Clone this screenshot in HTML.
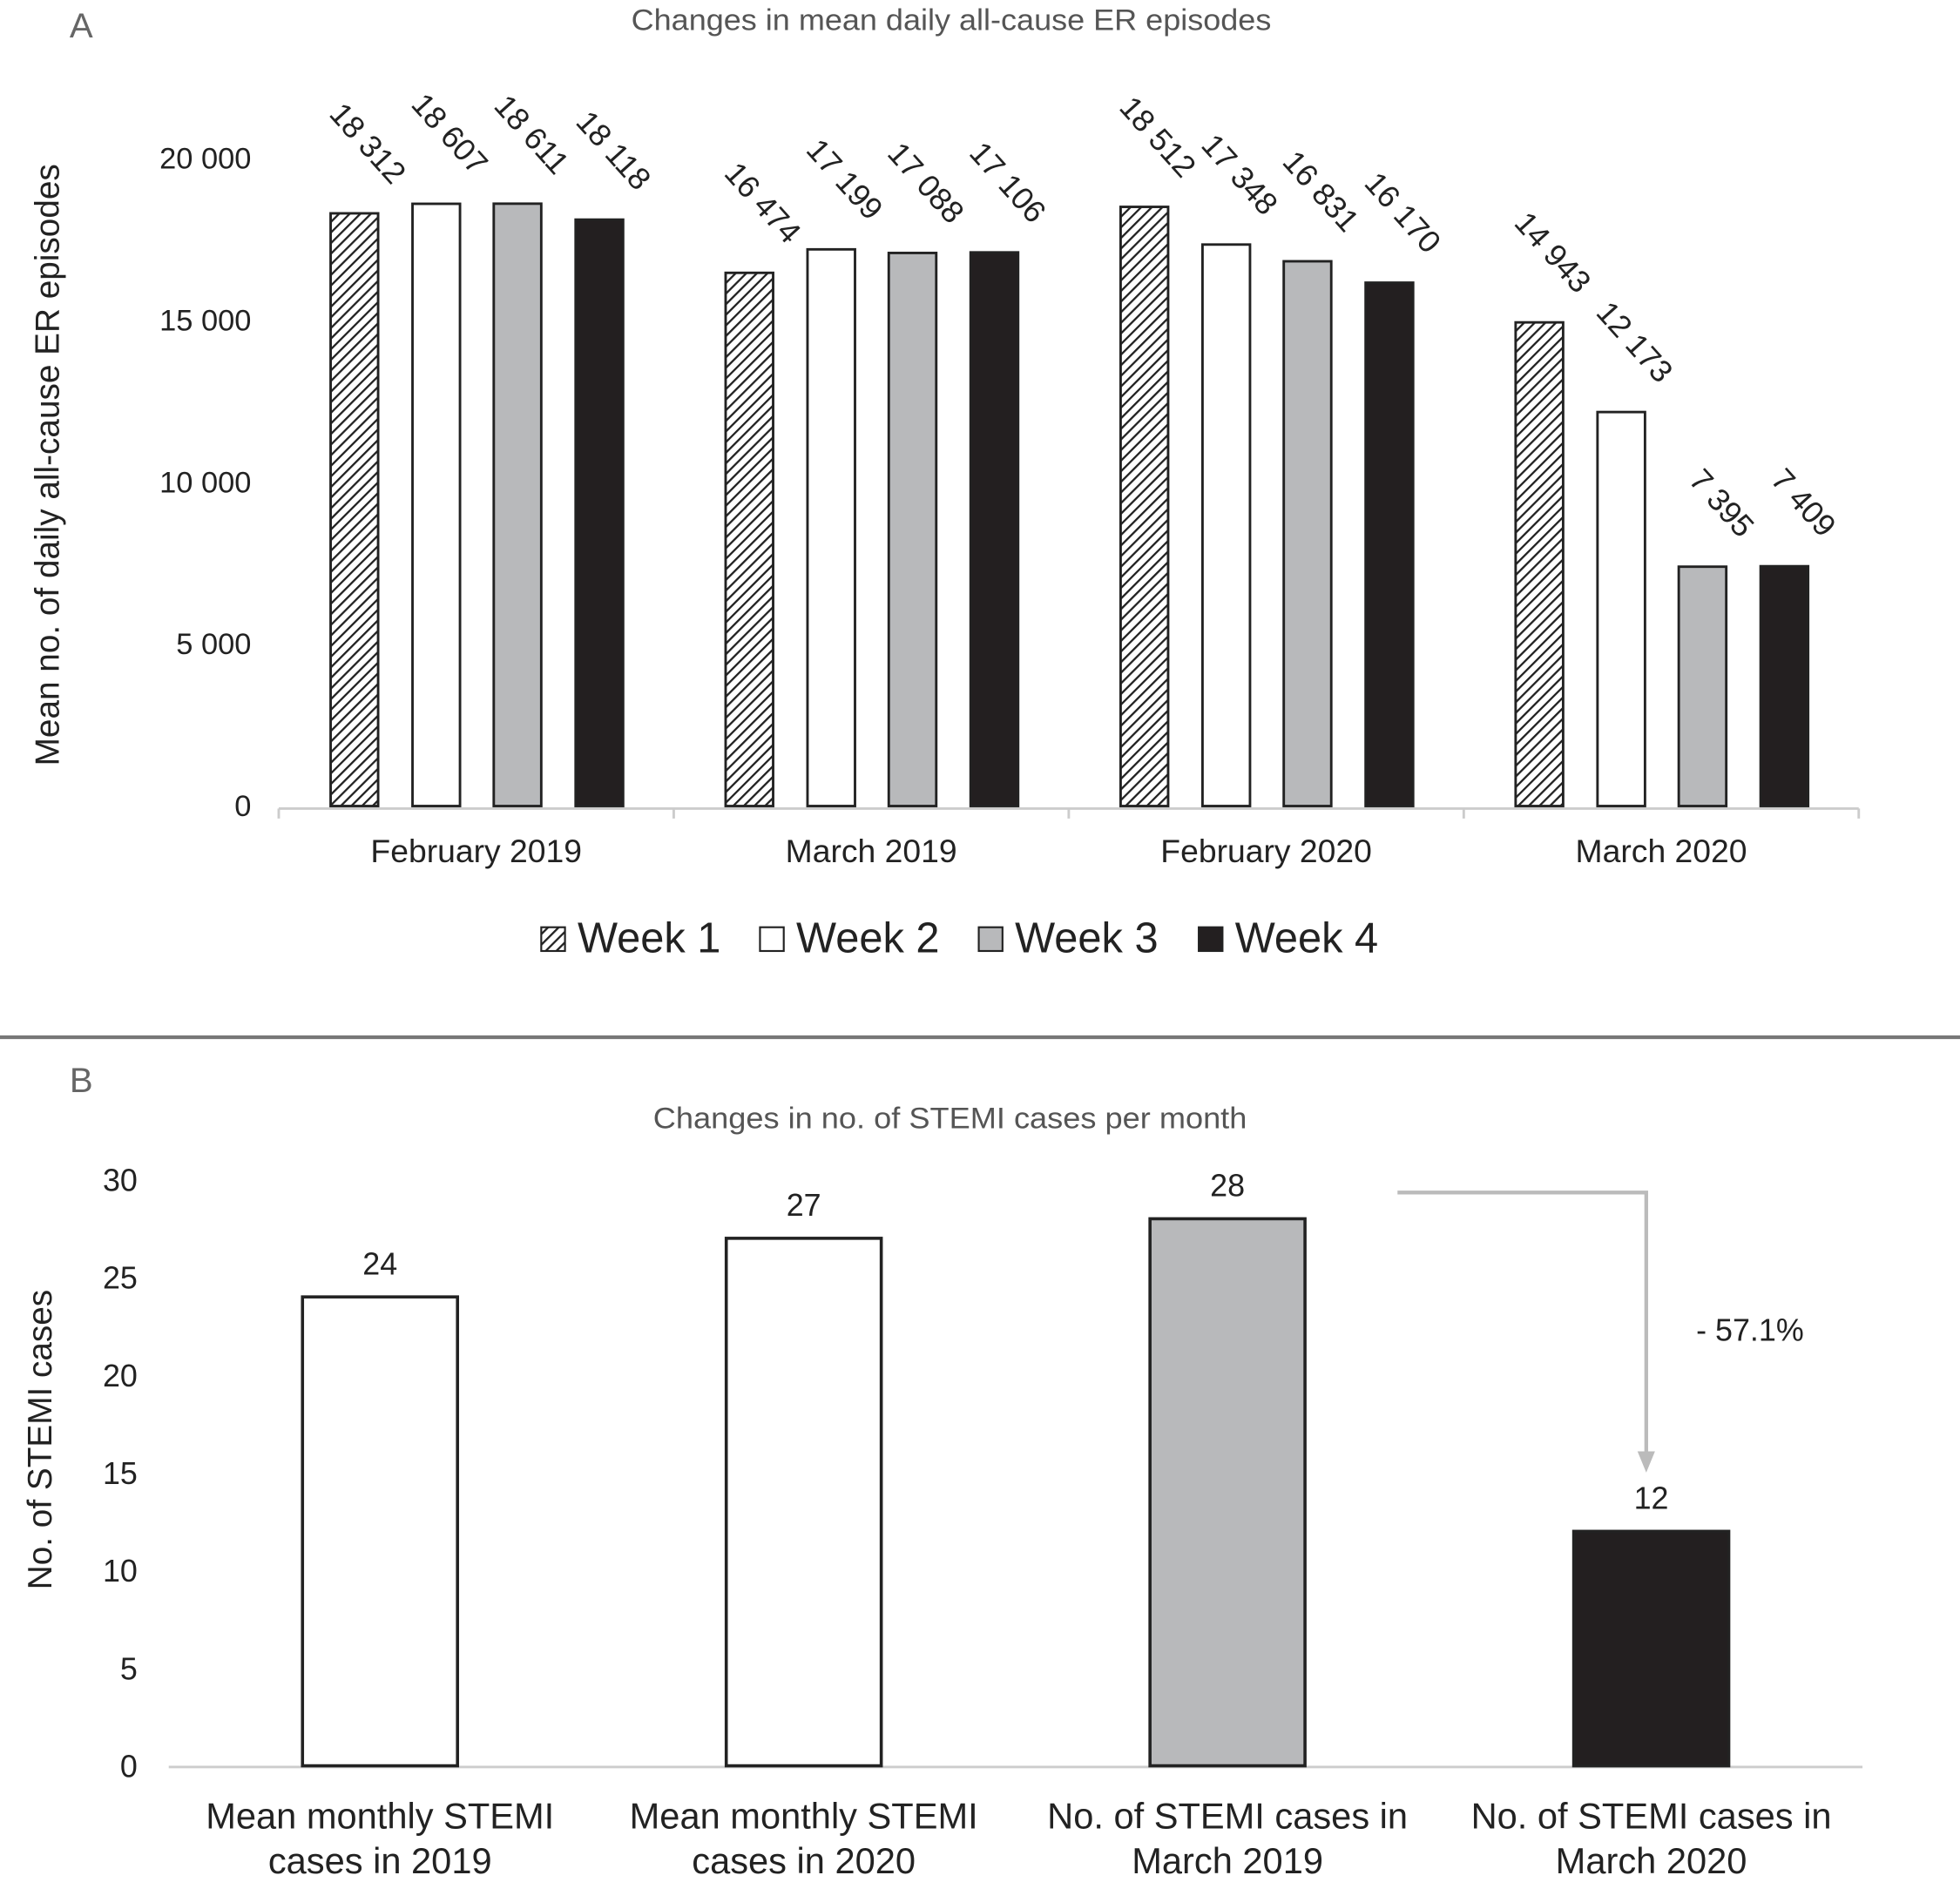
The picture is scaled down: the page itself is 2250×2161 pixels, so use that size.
<!DOCTYPE html>
<html><head><meta charset="utf-8"><style>
html,body{margin:0;padding:0;background:#fff;}
svg{display:block;}
text{font-family:"Liberation Sans",sans-serif;}
</style></head><body>
<svg id="chart" width="2250" height="2161" viewBox="0 0 1568 1506" preserveAspectRatio="none" xmlns="http://www.w3.org/2000/svg">
<defs>
<pattern id="hatch" width="6" height="6" patternUnits="userSpaceOnUse" patternTransform="rotate(45)">
<rect width="6" height="6" fill="#fff"/><rect x="0" y="0" width="1.6" height="6" fill="#222"/>
</pattern>
</defs>
<g id="panelA"></g>
<g id="panelB"></g>
</svg>
<script>
const groupsA = ["February 2019","March  2019","February  2020","March  2020"];
const week1 = [18312,16474,18512,14943];
const week2 = [18607,17199,17348,12173];
const week3 = [18611,17088,16831,7395];
const week4 = [18118,17106,16170,7409];
const labelsA1 = ["18 312","16 474","18 512","14 943"];
const labelsA2 = ["18 607","17 199","17 348","12 173"];
const labelsA3 = ["18 611","17 088","16 831","7 395"];
const labelsA4 = ["18 118","17 106","16 170","7 409"];
const ticksA = [0,5000,10000,15000,20000];
const tickLabelsA = ["0","5 000","10 000","15 000","20 000"];

const catsB1 = ["Mean monthly STEMI","Mean monthly STEMI","No. of  STEMI cases in","No. of  STEMI cases in"];
const catsB2 = ["cases in 2019","cases in 2020","March 2019","March 2020"];
const valuesB = [24,27,28,12];
const ticksB = [0,5,10,15,20,25,30];

const NS="http://www.w3.org/2000/svg";
function mk(parent,tag,attrs,txt){const e=document.createElementNS(NS,tag);for(const k in attrs)e.setAttribute(k,attrs[k]);if(txt!==undefined)e.textContent=txt;parent.appendChild(e);return e;}

// Panel A
const A=document.getElementById('panelA');
const yA=v=>645-v*(518/20000);
const xA0=223,gwA=316;
const gcA=i=>xA0+gwA*(i+0.5);
const offA=[-97.5,-32,33,98.5];
let t;
t=mk(A,'text',{x:65,y:30,'font-size':28,fill:'#666','text-anchor':'middle'},'A');


t=mk(A,'text',{x:761,y:24,'font-size':24,fill:'#555','text-anchor':'middle',textLength:512,lengthAdjust:'spacingAndGlyphs'},'Changes in mean daily all-cause ER episodes');


t=mk(A,'text',{x:0,y:0,'font-size':27,fill:'#222','text-anchor':'middle',transform:'translate(47,372) rotate(-90)'},'Mean no. of daily all-cause ER episodes');


ticksA.forEach((v,i)=>{
  const e=mk(A,'text',{x:201,y:yA(v)+8,'font-size':24,fill:'#222','text-anchor':'end'},tickLabelsA[i]);
  
  
});
const ax=mk(A,'line',{x1:223,y1:647,x2:1487,y2:647,stroke:'#ccc','stroke-width':2});


for(let i=0;i<=4;i++){
  const tk=mk(A,'line',{x1:xA0+gwA*i,y1:647,x2:xA0+gwA*i,y2:655,stroke:'#ccc','stroke-width':2});
  
  
}
const series=[week1,week2,week3,week4];
const slabels=[labelsA1,labelsA2,labelsA3,labelsA4];
const fills=['url(#hatch)','#fff','#b8b9bb','#231f20'];
groupsA.forEach((g,i)=>{
  const c=mk(A,'text',{x:gcA(i),y:690,'font-size':26,fill:'#222','text-anchor':'middle'},g);
  
  
  series.forEach((s,k)=>{
    const cx=gcA(i)+offA[k];
    const top=yA(s[i]);
    const r=mk(A,'rect',{x:cx-19,y:top,width:38,height:645-top,fill:fills[k],stroke:'#222','stroke-width':2});
    
    
    const lx=cx+30,ly=top-22;
    const l=mk(A,'text',{x:lx,y:ly,'font-size':25,fill:'#222','text-anchor':'end',transform:`rotate(48 ${lx} ${ly})`},slabels[k][i]);
    
    
  });
});
// legend
const legItems=[[433,'Week 1'],[608,'Week 2'],[783,'Week 3'],[959,'Week 4']];
legItems.forEach((it,k)=>{
  const g=mk(A,'g',{});
  
  
  mk(g,'rect',{x:it[0],y:742,width:19,height:19,fill:fills[k],stroke:'#222','stroke-width':1.5});
  mk(g,'text',{x:it[0]+29,y:762,'font-size':34,fill:'#222'},it[1]);
});
const sep=mk(A,'line',{x1:0,y1:830,x2:1568,y2:830,stroke:'#777','stroke-width':3});



// Panel B
const B=document.getElementById('panelB');
const yB=v=>1413-v*(469/30);
const xB=i=>304+339*i;
t=mk(B,'text',{x:65,y:874,'font-size':28,fill:'#666','text-anchor':'middle'},'B');


t=mk(B,'text',{x:760,y:903,'font-size':24,fill:'#555','text-anchor':'middle',textLength:475,lengthAdjust:'spacingAndGlyphs'},'Changes in no. of STEMI cases per month');


t=mk(B,'text',{x:0,y:0,'font-size':27,fill:'#222','text-anchor':'middle',transform:'translate(41,1152) rotate(-90)'},'No. of STEMI cases');


ticksB.forEach(v=>{
  const e=mk(B,'text',{x:110,y:yB(v)+9,'font-size':25,fill:'#222','text-anchor':'end'},String(v));
  
  
});
const axb=mk(B,'line',{x1:135,y1:1414,x2:1490,y2:1414,stroke:'#ccc','stroke-width':2});


const fillsB=['#fff','#fff','#b8b9bb','#231f20'];
valuesB.forEach((v,i)=>{
  const top=yB(v);
  const r=mk(B,'rect',{x:xB(i)-62,y:top,width:124,height:1413-top,fill:fillsB[i],stroke:'#222','stroke-width':2.5});
  
  
  const l=mk(B,'text',{x:xB(i),y:top-18,'font-size':25,fill:'#222','text-anchor':'middle'},String(v));
  
  
  const c1=mk(B,'text',{x:xB(i),y:1463,'font-size':29,fill:'#222','text-anchor':'middle'},catsB1[i]);
  
  
  const c2=mk(B,'text',{x:xB(i),y:1499,'font-size':29,fill:'#222','text-anchor':'middle'},catsB2[i]);
  
  
});
const arrowY=yB(valuesB[2])-21;
const arrow=mk(B,'path',{d:`M1118 ${arrowY} H1317 V${yB(valuesB[3])-62}`,fill:'none',stroke:'#bbb','stroke-width':3});


const head=mk(B,'path',{d:`M1310 ${yB(valuesB[3])-64} L1324 ${yB(valuesB[3])-64} L1317 ${yB(valuesB[3])-47} Z`,fill:'#bbb'});


t=mk(B,'text',{x:1400,y:1073,'font-size':25,fill:'#222','text-anchor':'middle'},'- 57.1%');


</script>
</body></html>
